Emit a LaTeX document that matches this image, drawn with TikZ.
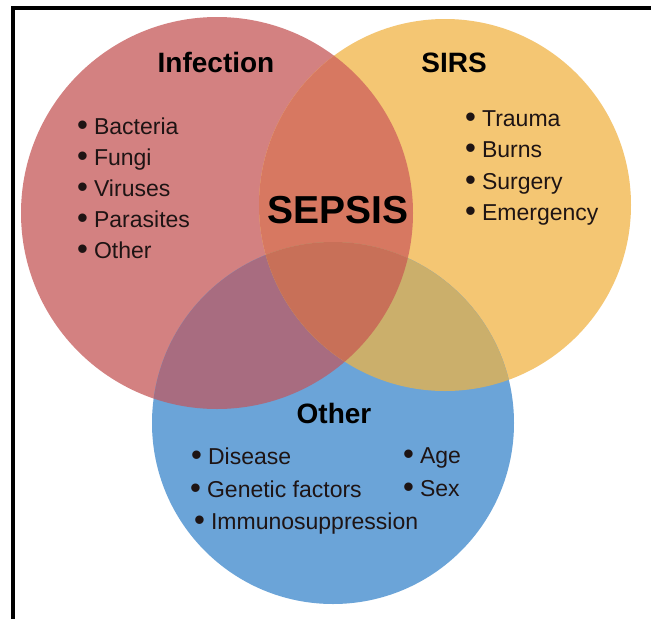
\documentclass[tikz,border=0pt]{standalone}
\usepackage{fontspec}
\setmainfont{Liberation Sans}
\definecolor{cred}{HTML}{D38181}
\definecolor{cyel}{HTML}{F4C673}
\definecolor{cblue}{HTML}{6BA4D8}
\definecolor{cry}{HTML}{D77861}
\definecolor{crb}{HTML}{A86C80}
\definecolor{cyb}{HTML}{CBAF6B}
\definecolor{cryb}{HTML}{C87058}
\definecolor{txt}{HTML}{1E1414}
\newcommand\itm[1]{\raisebox{-1.8pt}{\scalebox{1.35}{\textbullet}}\hspace{6pt}#1}
\begin{document}
\begin{tikzpicture}[x=1pt,y=-1pt,
  title/.style={anchor=base, inner sep=0, font=\fontsize{28}{28}\selectfont\bfseries, text=black},
  bigtitle/.style={anchor=base, inner sep=0, font=\fontsize{39}{39}\selectfont\bfseries, text=black},
  item/.style={anchor=base west, inner sep=0, font=\fontsize{23}{23}\selectfont, text=txt}]
\useasboundingbox (0,0) rectangle (651,619);
\fill[white] (0,0) rectangle (651,619);
\def\cR{(217,213) circle[radius=196pt]}
\def\cY{(445,205) circle[radius=186pt]}
\def\cB{(333,423) circle[radius=181pt]}
% base circles
\fill[cred] \cR;
\fill[cyel] \cY;
\fill[cblue] \cB;
% pairwise intersections
\begin{scope}\clip \cR; \fill[cry] \cY; \end{scope}
\begin{scope}\clip \cR; \fill[crb] \cB; \end{scope}
\begin{scope}\clip \cY; \fill[cyb] \cB; \end{scope}
\begin{scope}\clip \cR; \clip \cY; \fill[cryb] \cB; \end{scope}
% frame
\coordinate (ftr) at (651,7.5);
\coordinate (ftl) at (13,7.5);
\coordinate (fbl) at (13,619);
\draw[line width=4pt] (ftr) -- (ftl) -- (fbl);
% titles
\node[title] (inf) at (216,72) {Infection};
\node[title] (sirs) at (454,72) {SIRS};
\node[bigtitle] (sepsis) at (338,223) {SEPSIS};
\node[title] (oth) at (334,423) {Other};
% infection list
\node[item] (i1) at (77,134) {\itm{Bacteria}};
\node[item] (i2) at (77,165) {\itm{Fungi}};
\node[item] (i3) at (77,196) {\itm{Viruses}};
\node[item] (i4) at (77,227) {\itm{Parasites}};
\node[item] (i5) at (77,258) {\itm{Other}};
% sirs list
\node[item] (s1) at (465,126) {\itm{Trauma}};
\node[item] (s2) at (465,157) {\itm{Burns}};
\node[item] (s3) at (465,189) {\itm{Surgery}};
\node[item] (s4) at (465,220) {\itm{Emergency}};
% other list
\node[item] (o1) at (191,464) {\itm{Disease}};
\node[item] (o2) at (190,497) {\itm{Genetic factors}};
\node[item] (o3) at (194,529) {\itm{Immunosuppression}};
\node[item] (o4) at (403,463) {\itm{Age}};
\node[item] (o5) at (403,496) {\itm{Sex}};
\end{tikzpicture}
\end{document}
